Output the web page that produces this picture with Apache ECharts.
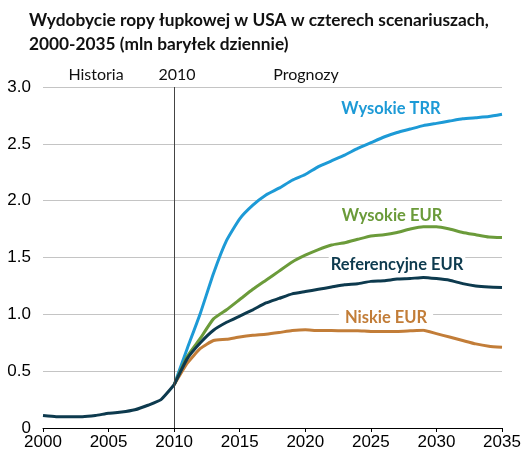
<!DOCTYPE html>
<html>
<head>
<meta charset="utf-8">
<script src="https://cdn.jsdelivr.net/npm/echarts@6/dist/echarts.min.js"></script>
<style>
html,body{margin:0;padding:0;background:#fff;}
#chart{width:530px;height:466px;}
</style>
</head>
<body>
<div id="chart"></div>
<script>
// Years
var histYears = [2000,2001,2002,2003,2004,2005,2006,2007,2008,2009,2010];
var projYears = [2010,2011,2012,2013,2014,2015,2016,2017,2018,2019,2020,2021,2022,2023,2024,2025,2026,2027,2028,2029,2030,2031,2032,2033,2034,2035];

// Historical production (mln bbl/day)
var historia = [0.11,0.10,0.10,0.10,0.11,0.13,0.14,0.16,0.20,0.25,0.38];

// Projections 2010-2035
var wysokieTRR = [0.38,0.70,1.01,1.36,1.65,1.84,1.96,2.05,2.11,2.18,2.23,2.30,2.35,2.40,2.46,2.51,2.56,2.60,2.63,2.66,2.68,2.70,2.72,2.73,2.74,2.76];
var wysokieEUR = [0.38,0.63,0.79,0.96,1.04,1.13,1.22,1.30,1.38,1.46,1.52,1.57,1.61,1.63,1.66,1.69,1.70,1.72,1.75,1.77,1.77,1.75,1.72,1.70,1.68,1.675];
var referencyjneEUR = [0.38,0.61,0.75,0.86,0.93,0.985,1.04,1.10,1.14,1.18,1.20,1.22,1.24,1.26,1.27,1.29,1.295,1.31,1.315,1.325,1.315,1.30,1.27,1.25,1.24,1.235];
var niskieEUR = [0.38,0.57,0.70,0.77,0.78,0.80,0.815,0.825,0.84,0.857,0.865,0.857,0.857,0.855,0.855,0.85,0.85,0.85,0.855,0.86,0.83,0.80,0.77,0.74,0.72,0.71];

function zip(xs, ys){ return xs.map(function(x,i){ return [x, ys[i]]; }); }

var C_BLUE = '#1d9ad6', C_GREEN = '#6b9b3a', C_DARK = '#0d3a4e', C_ORANGE = '#c27d38';

var chart = echarts.init(document.getElementById('chart'));
function lineSeries(name, data, color){
  return { name:name, type:'line', data:data, symbol:'none', smooth:0.15,
    lineStyle:{ color:color, width:3 }, itemStyle:{color:color}, z:3 };
}
var labelFont = 'bold 16.5px Lato, "Open Sans", sans-serif';
var topFont = '16px Lato, "Open Sans", sans-serif';
chart.setOption({
  animation:false,
  title:{
    text:'Wydobycie ropy łupkowej w USA w czterech scenariuszach,\n2000-2035 (mln baryłek dziennie)',
    left:24, top:3,
    textStyle:{ fontFamily:'Lato, "Open Sans", sans-serif', fontSize:17.3, fontWeight:'bold', color:'#111', lineHeight:24 }
  },
  grid:{ left:43, right:28, top:87, bottom:38 },
  xAxis:{
    type:'value', min:2000, max:2035, interval:5,
    axisLine:{ show:true, lineStyle:{ color:'#000', width:1 } },
    axisTick:{ show:true, length:4, lineStyle:{ color:'#000' } },
    splitLine:{ show:false },
    axisLabel:{ color:'#000', fontFamily:'"Liberation Sans", Arial, sans-serif', fontSize:17, margin:6,
      formatter:function(v){ return String(v); } }
  },
  yAxis:{
    type:'value', min:0, max:3, interval:0.5,
    axisLine:{ show:false }, axisTick:{ show:false },
    splitLine:{ show:true, lineStyle:{ color:'#c4c4c4', width:1 } },
    axisLabel:{ color:'#000', fontFamily:'"Liberation Sans", Arial, sans-serif', fontSize:17, margin:12,
      formatter:function(v){ return v === 0 ? '0' : v.toFixed(1); } }
  },
  series:[
    lineSeries('Wysokie TRR', zip(projYears, wysokieTRR), C_BLUE),
    lineSeries('Wysokie EUR', zip(projYears, wysokieEUR), C_GREEN),
    lineSeries('Niskie EUR', zip(projYears, niskieEUR), C_ORANGE),
    lineSeries('Referencyjne EUR', zip(projYears, referencyjneEUR), C_DARK),
    Object.assign(lineSeries('Historia', zip(histYears, historia), C_DARK), {
      markLine:{ silent:true, symbol:'none', label:{show:false},
        lineStyle:{ color:'#444', width:1, type:'solid' },
        data:[{ xAxis:2010 }] }
    })
  ],
  graphic:[
    { type:'text', x:96, y:75, z:10, style:{ text:'Historia', font:topFont, fill:'#111', align:'center', verticalAlign:'middle' } },
    { type:'text', x:177, y:75, z:10, style:{ text:'2010', font:topFont, fill:'#111', align:'center', verticalAlign:'middle' } },
    { type:'text', x:306, y:75, z:10, style:{ text:'Prognozy', font:topFont, fill:'#111', align:'center', verticalAlign:'middle' } },
    { type:'text', x:391, y:109, z:10, style:{ text:'Wysokie TRR', font:labelFont, fill:C_BLUE, align:'center', verticalAlign:'middle' } },
    { type:'text', x:392, y:216, z:10, style:{ text:'Wysokie EUR', font:labelFont, fill:C_GREEN, align:'center', verticalAlign:'middle' } },
    { type:'text', x:397, y:265, z:10, style:{ text:'Referencyjne EUR', font:labelFont, fill:C_DARK, align:'center', verticalAlign:'middle', backgroundColor:'#fff', padding:[2,2,2,2] } },
    { type:'text', x:386, y:318, z:10, style:{ text:'Niskie EUR', font:labelFont, fill:C_ORANGE, align:'center', verticalAlign:'middle', backgroundColor:'#fff', padding:[2,6,2,6] } }
  ]
});
</script>
</body>
</html>
